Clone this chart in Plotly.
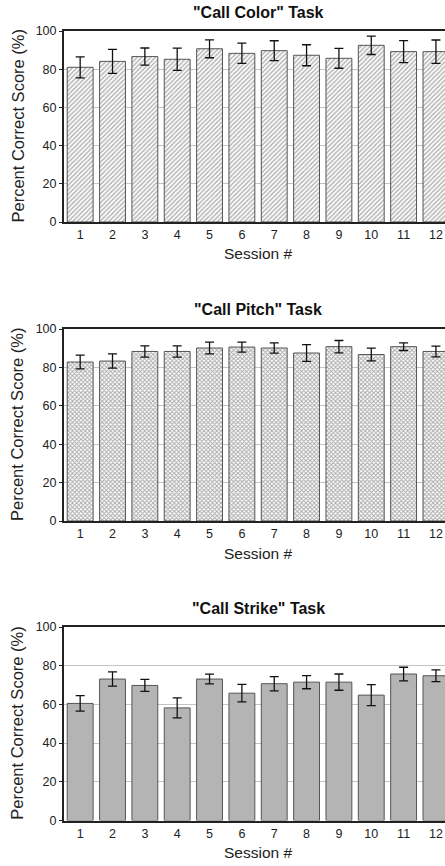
import plotly.graph_objects as go

sessions = list(range(1, 13))
tick_labels = [str(s) for s in sessions]

color_mean = [81.0, 84.1, 86.6, 85.2, 90.7, 88.3, 89.7, 87.3, 85.7, 92.5, 89.2, 89.2]
color_err = [5.5, 6.3, 4.5, 5.8, 4.7, 5.3, 5.2, 5.5, 5.2, 4.8, 5.8, 6.1]

pitch_mean = [82.8, 83.3, 88.3, 88.3, 90.1, 90.6, 90.1, 87.5, 90.8, 86.7, 90.8, 88.3]
pitch_err = [3.6, 3.7, 2.9, 2.9, 3.1, 2.6, 2.7, 4.4, 3.2, 3.3, 2.0, 2.8]

strike_mean = [60.5, 73.1, 69.8, 58.2, 73.1, 65.8, 70.7, 71.5, 71.5, 64.8, 75.7, 74.8]
strike_err = [4.0, 3.7, 3.1, 5.2, 2.5, 4.5, 3.7, 3.4, 4.2, 5.4, 3.5, 3.0]

titles = ['"Call Color" Task', '"Call Pitch" Task', '"Call Strike" Task']

W, H = 445, 866
FONT = "Liberation Sans, Arial, sans-serif"

# panel pixel extents (top, bottom)
panels = [(31, 222), (329, 521), (627, 820.5)]
left_px = 64

fig = go.Figure()

markers = [
    dict(color="#ffffff", line=dict(color="#555555", width=1),
         pattern=dict(shape="/", fgcolor="#666666", bgcolor="#ffffff", size=3.2, solidity=0.45)),
    dict(color="#ffffff", line=dict(color="#555555", width=1),
         pattern=dict(shape="x", fgcolor="#555555", bgcolor="#ffffff", size=3, solidity=0.55)),
    dict(color="#b4b4b4", line=dict(color="#555555", width=1)),
]
series = [(color_mean, color_err), (pitch_mean, pitch_err), (strike_mean, strike_err)]

annotations = []
for i, ((mean, err), mk, (top, bot), title) in enumerate(zip(series, markers, panels, titles)):
    xa = "x" if i == 0 else f"x{i+1}"
    ya = "y" if i == 0 else f"y{i+1}"
    fig.add_trace(go.Bar(
        x=sessions, y=mean, width=0.8, marker=mk,
        error_y=dict(type="data", array=err, visible=True, color="#111111", thickness=1.3, width=4.5),
        xaxis=xa, yaxis=ya, showlegend=False, hoverinfo="skip",
    ))
    dom = [1 - bot / H, 1 - top / H]
    xkey = "xaxis" if i == 0 else f"xaxis{i+1}"
    ykey = "yaxis" if i == 0 else f"yaxis{i+1}"
    fig.update_layout(**{
        xkey: dict(domain=[left_px / W, 1], range=[0.5, 12.28], anchor=ya,
                   tickmode="array", tickvals=sessions, ticktext=tick_labels,
                   showline=True, linecolor="#222222", linewidth=2, mirror=True,
                   showgrid=False, ticks="", zeroline=False, automargin=False,
                   tickfont=dict(family=FONT, size=12.5, color="#222222")),
        ykey: dict(domain=dom, range=[0, 100], anchor=xa,
                   tickvals=[0, 20, 40, 60, 80, 100],
                   showline=True, linecolor="#222222", linewidth=2,
                   showgrid=True, gridcolor="#c4c4c4", gridwidth=1, automargin=False,
                   ticks="outside", ticklen=3, tickcolor="#222222", zeroline=False,
                   tickfont=dict(family=FONT, size=12.5, color="#222222")),
    })
    annotations.append(dict(text=f"<b>{title}</b>", x=258 / W, y=1 - (top - 19) / H,
                            xref="paper", yref="paper", showarrow=False,
                            xanchor="center", yanchor="middle",
                            font=dict(family=FONT, size=16, color="#111111")))
    annotations.append(dict(text="Percent Correct Score (%)", x=17 / W, y=1 - ((top + bot) / 2) / H,
                            xref="paper", yref="paper", showarrow=False, textangle=-90,
                            xanchor="center", yanchor="middle",
                            font=dict(family=FONT, size=16.5, color="#222222")))
    annotations.append(dict(text="Session #", x=258 / W, y=1 - (bot + 32) / H,
                            xref="paper", yref="paper", showarrow=False,
                            xanchor="center", yanchor="middle",
                            font=dict(family=FONT, size=15.5, color="#222222")))

fig.update_layout(
    width=W, height=H,
    margin=dict(l=0, r=0, t=0, b=0),
    paper_bgcolor="white", plot_bgcolor="white",
    annotations=annotations,
)

fig.write_html(
    "out.html",
    config={"displayModeBar": False},
    post_script="document.body.style.margin='0';document.body.style.overflow='hidden';"
                "document.documentElement.style.overflow='hidden';",
)
